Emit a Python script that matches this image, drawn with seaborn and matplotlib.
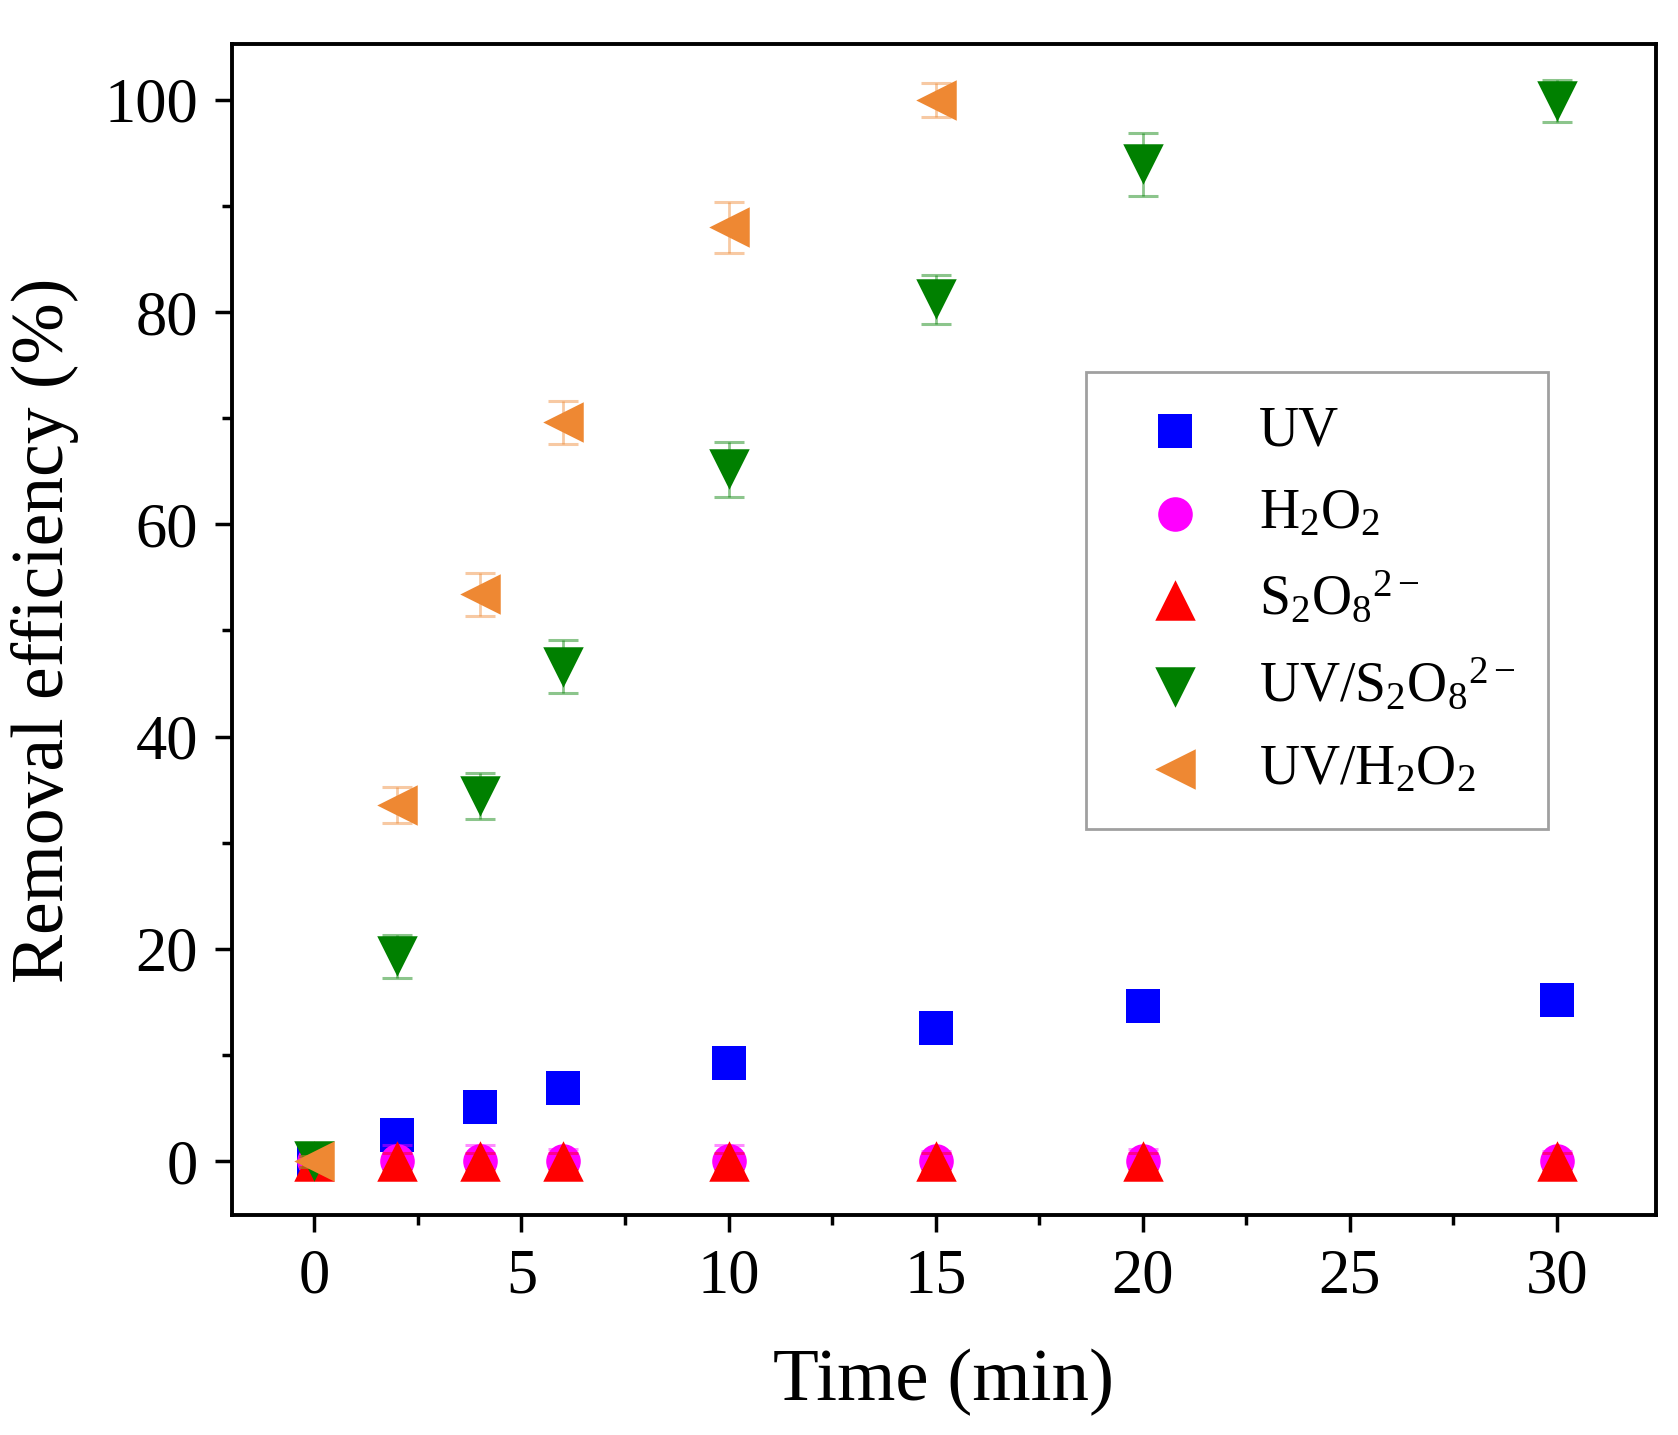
import numpy as np
import pandas as pd
import seaborn as sns
import matplotlib.pyplot as plt
from matplotlib.ticker import MultipleLocator

# time points (min)
time_full = [0, 2, 4, 6, 10, 15, 20, 30]
time_h2o2uv = [0, 2, 4, 6, 10, 15]

series_names = ['UV', 'H2O2', 'S2O8', 'UV/S2O8', 'UV/H2O2']
series_labels = ['UV', r'H$_2$O$_2$', r'S$_2$O$_8$$^{2-}$',
                 r'UV/S$_2$O$_8$$^{2-}$', r'UV/H$_2$O$_2$']

uv = [0, 2.5, 5.1, 6.9, 9.3, 12.6, 14.6, 15.2]
uv_err = [0.5, 1.3, 1.4, 1.3, 1.3, 1.4, 0.5, 0.5]
h2o2 = [0, 0, 0, 0, 0, 0, 0, 0]
h2o2_err = [0.5, 1.5, 1.5, 1.2, 1.5, 1.0, 1.2, 1.0]
s2o8 = [0, 0, 0, 0, 0, 0, 0, 0]
s2o8_err = [0.5, 0.8, 0.8, 0.8, 0.8, 0.8, 0.8, 0.8]
uv_s2o8 = [0, 19.3, 34.4, 46.6, 65.2, 81.2, 93.9, 99.9]
uv_s2o8_err = [0.5, 2.0, 2.2, 2.5, 2.6, 2.3, 3.0, 2.0]
uv_h2o2 = [0, 33.6, 53.4, 69.6, 88.0, 100.0]
uv_h2o2_err = [0.5, 1.7, 2.0, 2.0, 2.4, 1.6]

colors = ['#0000FF', '#FF00FF', '#FF0000', '#008000', '#EE8833']
marker_list = ['s', 'o', '^', 'v', '<']
marker_sizes = [620, 620, 850, 850, 850]

rows = []
for name, t, vals, errs in zip(series_names,
                               [time_full, time_full, time_full, time_full, time_h2o2uv],
                               [uv, h2o2, s2o8, uv_s2o8, uv_h2o2],
                               [uv_err, h2o2_err, s2o8_err, uv_s2o8_err, uv_h2o2_err]):
    for ti, v, e in zip(t, vals, errs):
        rows.append([name, ti, v, e])
df = pd.DataFrame(rows, columns=['series', 'time', 'removal', 'err'])

sns.set_theme(style="ticks")
plt.rcParams['font.family'] = ['Liberation Serif', 'DejaVu Serif']
plt.rcParams['mathtext.fontset'] = 'custom'
plt.rcParams['mathtext.rm'] = 'Liberation Serif'
plt.rcParams['mathtext.it'] = 'Liberation Serif:italic'
plt.rcParams['text.color'] = 'black'
plt.rcParams['axes.labelcolor'] = 'black'
plt.rcParams['xtick.color'] = 'black'
plt.rcParams['ytick.color'] = 'black'

fig = plt.figure(figsize=(16.78, 14.35), dpi=100)
ax = fig.add_axes([0.138, 0.153, 0.849, 0.816])

# error bars first (lighter), markers on top, one series at a time
for i, (name, col, mk, ms) in enumerate(zip(series_names, colors, marker_list, marker_sizes)):
    sub = df[df['series'] == name]
    ax.errorbar(sub['time'], sub['removal'], yerr=sub['err'], fmt='none',
                ecolor=col, alpha=0.45, elinewidth=2, capsize=11, capthick=2.2,
                zorder=2 + 2 * i)
    sns.scatterplot(data=sub, x='time', y='removal', color=col, marker=mk,
                    s=ms, linewidth=0, ax=ax, zorder=3 + 2 * i,
                    label=series_labels[i])

ax.set_xlim(-2, 32.4)
ax.set_ylim(-5.1, 105.2)
ax.xaxis.set_major_locator(MultipleLocator(5))
ax.xaxis.set_minor_locator(MultipleLocator(2.5))
ax.yaxis.set_major_locator(MultipleLocator(20))
ax.yaxis.set_minor_locator(MultipleLocator(10))
ax.tick_params(which='major', direction='out', length=12, width=2.5,
               labelsize=45, pad=12)
ax.tick_params(which='minor', direction='out', length=7, width=2.5)
for sp in ax.spines.values():
    sp.set_linewidth(2.8)
    sp.set_color('black')

ax.set_xlabel('Time (min)', fontsize=54, labelpad=30)
ax.set_ylabel('Removal efficiency (%)', fontsize=53, labelpad=18)

leg = ax.legend(loc='upper left', bbox_to_anchor=(0.60, 0.72), frameon=True,
                fancybox=False, fontsize=40, handletextpad=0.5,
                labelspacing=0.55, borderpad=0.6, borderaxespad=0)
leg.get_frame().set_edgecolor('#888888')
leg.get_frame().set_linewidth(2)

fig.savefig('out.png', dpi=100)
